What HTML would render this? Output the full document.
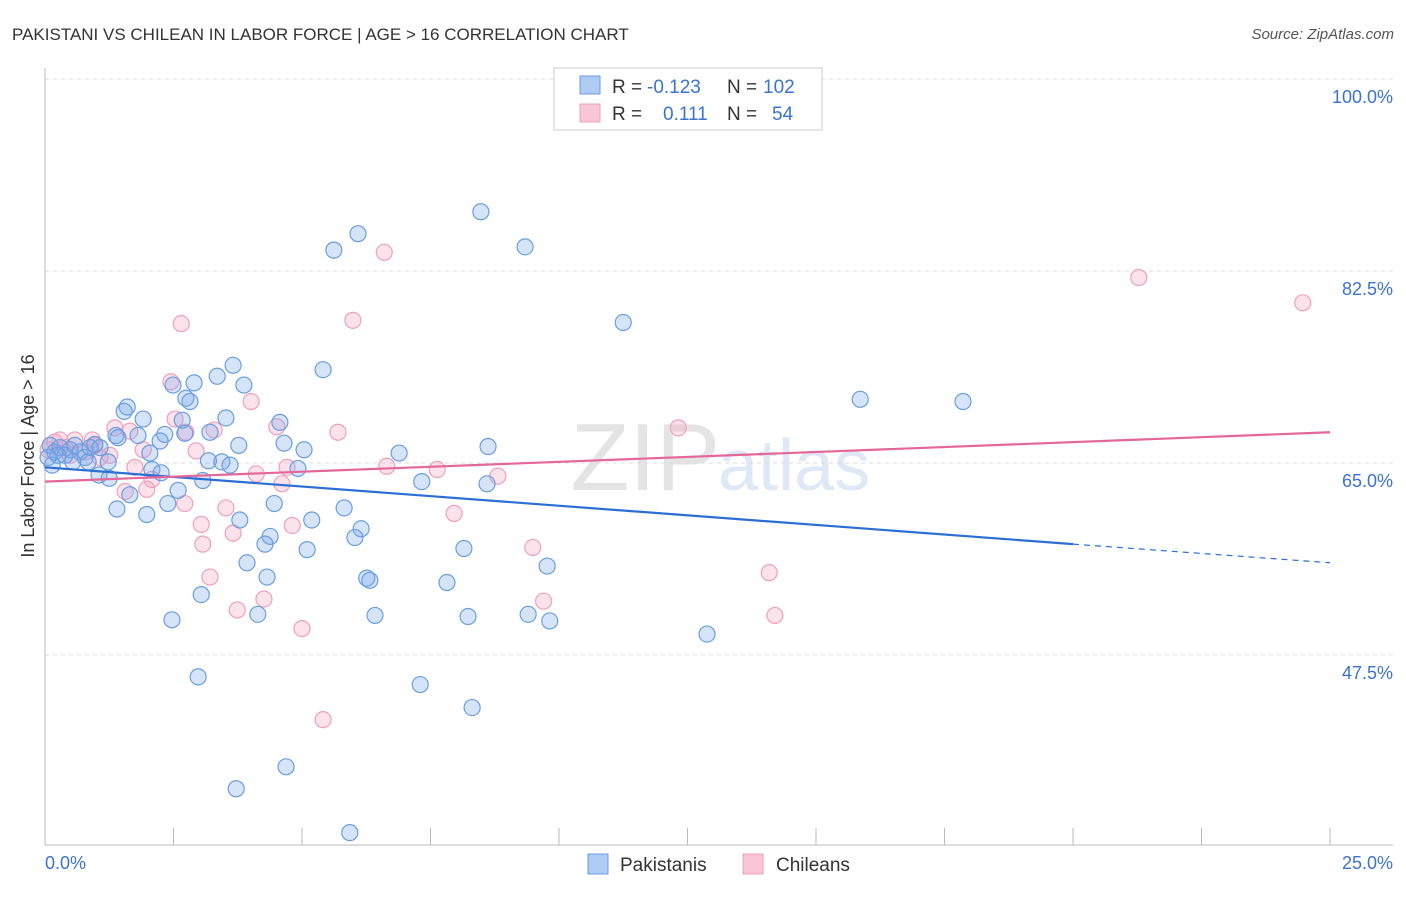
<!DOCTYPE html>
<html><head><meta charset="utf-8"><style>
body{margin:0;background:#fff;font-family:"Liberation Sans",sans-serif;}
svg text{font-family:"Liberation Sans",sans-serif;}
</style></head><body>
<svg id="chart" width="1406" height="892">
<text x="12" y="40" font-size="17" fill="#333">PAKISTANI VS CHILEAN IN LABOR FORCE | AGE &gt; 16 CORRELATION CHART</text>
<text x="1394" y="39" font-size="15" fill="#555" text-anchor="end" font-style="italic">Source: ZipAtlas.com</text>
<text x="720" y="490" font-size="96" fill="#e4e4e4" text-anchor="end" font-family="Liberation Serif">ZIP</text>
<text x="718" y="490" font-size="72" fill="#dfe8f5">atlas</text>
<g id="grid"></g>
<g id="marks"></g>
<text transform="translate(34,456) rotate(-90)" font-size="18" fill="#333" text-anchor="middle">In Labor Force | Age &gt; 16</text>
<text x="45" y="869" font-size="18" fill="#3b73d1">0.0%</text>
<text x="1393" y="869" font-size="18" fill="#3b73d1" text-anchor="end">25.0%</text>
<g>
<rect x="554" y="68" width="268" height="62" fill="#fff" stroke="#ccc"/>
<rect x="580" y="76" width="20" height="18" fill="#aecbf5" stroke="#6a9ee0"/>
<rect x="580" y="104" width="20" height="18" fill="#f9c6d7" stroke="#f0a0bc"/>
<text x="612" y="93" font-size="19" fill="#333">R = <tspan fill="#3b73d1" x="647">-0.123</tspan><tspan x="727">N = </tspan><tspan fill="#3b73d1" x="763">102</tspan></text>
<text x="612" y="120" font-size="19" fill="#333">R = <tspan fill="#3b73d1" x="663">0.111</tspan><tspan x="727">N = </tspan><tspan fill="#3b73d1" x="772">54</tspan></text>
</g>
<g>
<rect x="588" y="854" width="20" height="20" fill="#aecbf5" stroke="#6a9ee0"/>
<text x="620" y="871" font-size="19" fill="#333">Pakistanis</text>
<rect x="743" y="854" width="20" height="20" fill="#f9c6d7" stroke="#f0a0bc"/>
<text x="776" y="871" font-size="19" fill="#333">Chileans</text>
</g>
</svg>
<script>
const yTicks=[100,82.5,65,47.5];
const yTickLabels=["100.0%","82.5%","65.0%","47.5%"];
const blueX=[8.48,6.09,5.62,9.34,11.25,5.41,3.66,3.35,3.87,2.9,2.49,2.74,2.82,1.6,1.54,1.91,3.52,4.57,2.67,2.33,2.72,3.21,1.81,1.38,1.42,2.24,3.77,4.65,5.04,6.89,8.62,3.18,3.44,3.6,4.92,2.04,2.08,2.26,1.23,1.05,1.25,7.33,8.6,3.07,2.59,1.65,1.4,1.98,2.39,4.46,5.82,5.19,3.79,6.15,6.03,4.38,4.28,5.1,8.15,3.93,9.77,4.32,6.26,6.32,7.82,3.04,4.14,6.42,8.23,9.4,9.82,2.47,12.88,2.98,7.3,8.31,4.69,3.72,5.93,15.86,17.86,0.1,0.19,0.29,0.39,0.49,0.58,0.68,0.78,0.88,0.97,1.07,0.14,0.54,0.84,0.25,0.06];
const blueY=[87.9,85.9,84.4,84.7,77.8,73.5,73.9,72.9,72.1,72.3,72.1,70.9,70.6,70.1,69.7,69.0,69.1,68.7,68.9,67.6,67.7,67.8,67.5,67.5,67.3,67.0,66.6,66.8,66.2,65.9,66.5,65.2,65.1,64.8,64.5,65.9,64.4,64.1,65.1,63.9,63.6,63.3,63.1,63.4,62.5,62.1,60.8,60.3,61.3,61.3,60.9,59.8,59.8,59.0,58.2,58.3,57.6,57.1,57.2,55.9,55.6,54.6,54.5,54.3,54.1,53.0,51.2,51.1,51.0,51.2,50.6,50.7,49.4,45.5,44.8,42.7,37.3,35.3,31.3,70.8,70.6,66.6,66.0,66.4,65.7,66.2,66.6,66.0,65.5,66.4,66.7,66.4,64.8,65.1,65.1,65.7,65.5];
const pinkX=[6.6,21.28,24.47,2.65,5.99,2.45,2.53,4.01,3.29,2.74,4.51,5.7,12.32,1.65,2.94,1.36,1.91,4.11,4.71,6.65,7.63,8.81,4.61,1.75,2.08,1.98,1.56,2.72,3.52,3.04,4.81,3.66,3.07,7.96,9.49,3.21,4.26,3.74,9.7,14.09,14.2,5.0,5.41,0.19,0.39,0.58,0.78,0.97,0.29,1.07,0.06,1.26,0.49,0.92];
const pinkY=[84.2,81.9,79.6,77.7,78.0,72.4,69.0,70.6,68.0,67.8,68.3,67.8,68.2,67.9,66.1,68.2,66.2,64.0,64.6,64.7,64.4,63.8,63.1,64.6,63.5,62.6,62.4,61.3,60.9,59.4,59.3,58.6,57.6,60.4,57.3,54.6,52.6,51.6,52.4,55.0,51.1,49.9,41.6,66.9,66.4,67.1,66.0,66.6,67.1,65.5,66.2,65.7,65.7,67.1];
const blueTrend=[64.6,57.6,55.9];
const trendXs=[0,20,25];
const pinkTrend=[63.3,67.8];

const NS="http://www.w3.org/2000/svg";
const sx=v=>45+v*51.4;
const sy=v=>79+(100-v)*10.97;
function mk(tag,attrs,parent){const e=document.createElementNS(NS,tag);for(const k in attrs)e.setAttribute(k,attrs[k]);parent.appendChild(e);return e;}
const grid=document.getElementById('grid'),marks=document.getElementById('marks');
yTicks.forEach((t,i)=>{
  const l=mk('line',{x1:45,x2:1393,y1:sy(t),y2:sy(t),stroke:'#ddd','stroke-dasharray':'4,4'},grid);
  
  
  const tx=mk('text',{x:1393,y:sy(t)+24,'font-size':18,fill:'#3b73d1','text-anchor':'end'},grid);
  tx.textContent=yTickLabels[i];
  
  
});
const ax=mk('line',{x1:45,x2:45,y1:68,y2:845,stroke:'#bbb'},grid);


const bx=mk('line',{x1:45,x2:1393,y1:845,y2:845,stroke:'#bbb'},grid);


for(let i=0;i<=10;i++){const v=i*2.5;const t=mk('line',{x1:sx(v),x2:sx(v),y1:828,y2:845,stroke:'#bbb'},grid);

}
function dots(X,Y,fill,stroke,name){X.forEach((x,i)=>{const c=mk('circle',{cx:sx(x),cy:sy(Y[i]),r:8,fill:fill,stroke:stroke,'stroke-width':1.2},marks);

});}
dots(pinkX,pinkY,'rgba(244,160,190,0.3)','#f0a0bc','chilean-point');
dots(blueX,blueY,'rgba(120,165,235,0.3)','#6a9ee0','pakistani-point');
const b1=mk('line',{x1:sx(trendXs[0]),y1:sy(blueTrend[0]),x2:sx(trendXs[1]),y2:sy(blueTrend[1]),stroke:'#2b6fd6','stroke-width':2.2},marks);


const b2=mk('line',{x1:sx(trendXs[1]),y1:sy(blueTrend[1]),x2:sx(trendXs[2]),y2:sy(blueTrend[2]),stroke:'#2b6fd6','stroke-width':1.2,'stroke-dasharray':'6,5'},marks);


const p1=mk('line',{x1:sx(0),y1:sy(pinkTrend[0]),x2:sx(25),y2:sy(pinkTrend[1]),stroke:'#e5679a','stroke-width':2.2},marks);


</script>
</body></html>
